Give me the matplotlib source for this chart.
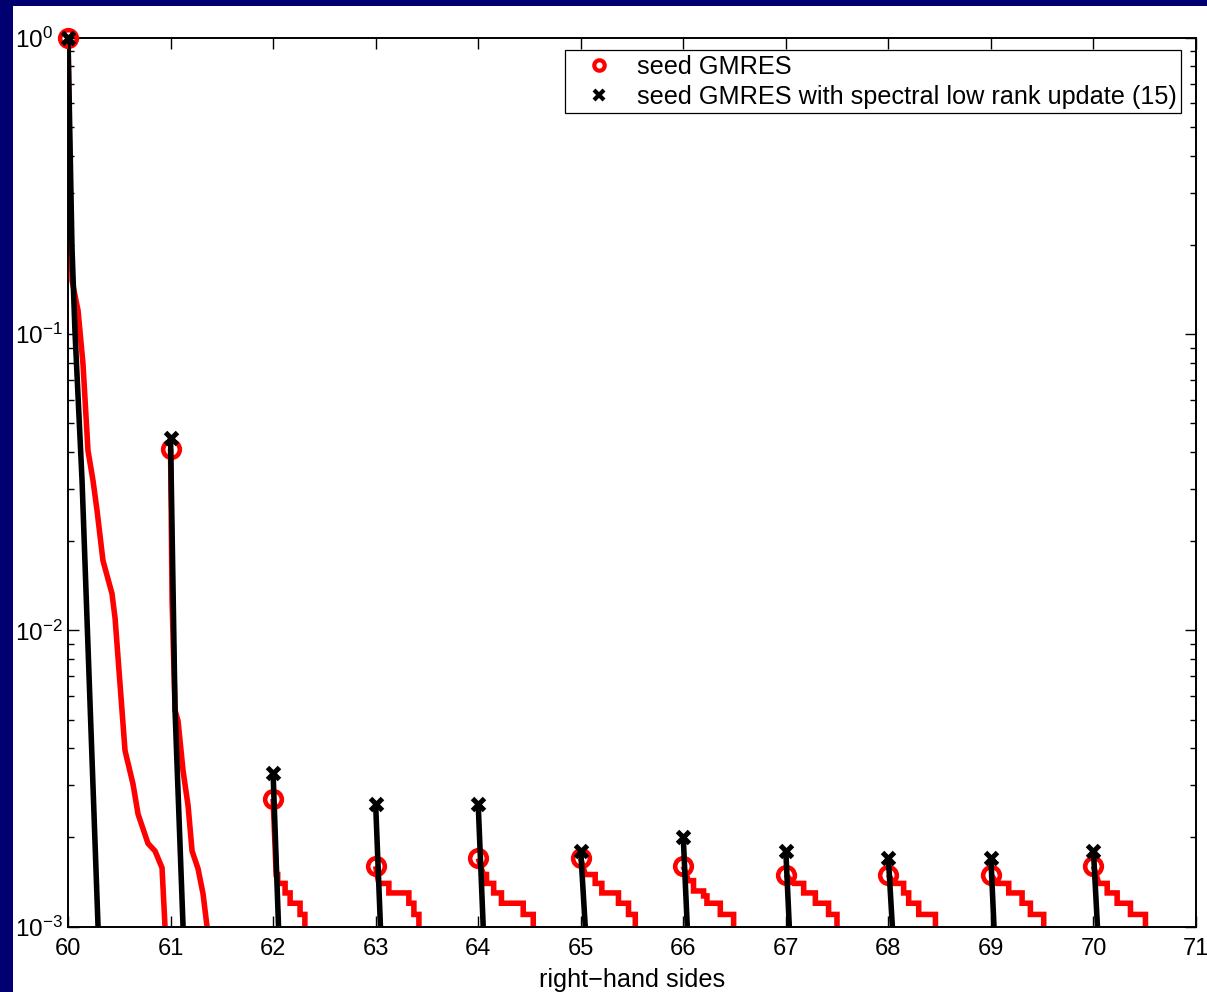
import numpy as np
import matplotlib
matplotlib.use("Agg")
import matplotlib.pyplot as plt
from matplotlib.lines import Line2D
from matplotlib.patches import Rectangle
from matplotlib.ticker import FixedLocator, LogLocator, NullFormatter, FuncFormatter

plt.rcParams['font.family'] = ['Liberation Sans', 'DejaVu Sans']
plt.rcParams['mathtext.fontset'] = 'custom'
plt.rcParams['mathtext.rm'] = 'Liberation Sans'
plt.rcParams['mathtext.it'] = 'Liberation Sans:italic'
plt.rcParams['mathtext.default'] = 'regular'

# ---------------- data ----------------
rhs = [60, 61, 62, 63, 64, 65, 66, 67, 68, 69, 70]
x_ticks = list(range(60, 72))

# starting residuals (markers)
seed_start = [1.0, 0.041, 2.7e-3, 1.6e-3, 1.7e-3, 1.7e-3, 1.6e-3, 1.5e-3, 1.5e-3, 1.5e-3, 1.6e-3]
lowrank_start = [1.0, 0.0447, 3.3e-3, 2.6e-3, 2.6e-3, 1.8e-3, 2.0e-3, 1.8e-3, 1.7e-3, 1.7e-3, 1.8e-3]

# seed GMRES: smooth head part (offset within rhs, residual)
seed_head_dx = [
    [0, 0.02, 0.04, 0.098, 0.146, 0.195, 0.244, 0.283, 0.341, 0.429, 0.459, 0.556,
     0.634, 0.683, 0.78, 0.849, 0.917, 0.946, 0.955],
    [0, 0.015, 0.044, 0.073, 0.122, 0.171, 0.210, 0.268, 0.317, 0.356, 0.365],
    [0, 0.03], [0, 0.031], [0, 0.05], [0, 0.044], [0, 0.05],
    [0, 0.076], [0, 0.052], [0, 0.06], [0, 0.052],
]
seed_head_val = [
    [1.0, 0.282, 0.151, 0.120, 0.0794, 0.0404, 0.032, 0.0254, 0.0172, 0.0133, 0.0110,
     3.93e-3, 3.03e-3, 2.40e-3, 1.91e-3, 1.80e-3, 1.58e-3, 1.0e-3, 0.9e-3],
    [0.041, 0.0126, 5.37e-3, 4.95e-3, 3.36e-3, 2.56e-3, 1.80e-3, 1.57e-3, 1.29e-3, 1.0e-3, 0.9e-3],
    [2.7e-3, 1.5e-3], [1.6e-3, 1.4e-3], [1.7e-3, 1.5e-3], [1.7e-3, 1.5e-3], [1.6e-3, 1.43e-3],
    [1.5e-3, 1.4e-3], [1.5e-3, 1.4e-3], [1.5e-3, 1.4e-3], [1.6e-3, 1.4e-3],
]
# seed GMRES: stagnation staircase (offset where the residual drops, new level)
seed_step_dx = [
    [], [],
    [0.045, 0.117, 0.166, 0.263, 0.31],
    [0.129, 0.324, 0.373, 0.422],
    [0.081, 0.151, 0.227, 0.439, 0.537],
    [0.141, 0.206, 0.368, 0.466, 0.532],
    [0.10, 0.198, 0.231, 0.361, 0.491],
    [0.174, 0.288, 0.417, 0.499],
    [0.149, 0.198, 0.296, 0.459],
    [0.174, 0.304, 0.385, 0.515],
    [0.134, 0.231, 0.361, 0.507],
]
seed_step_val = [
    [], [],
    [1.4e-3, 1.3e-3, 1.2e-3, 1.1e-3, 0.9e-3],
    [1.3e-3, 1.2e-3, 1.1e-3, 0.9e-3],
    [1.4e-3, 1.3e-3, 1.2e-3, 1.1e-3, 0.9e-3],
    [1.4e-3, 1.3e-3, 1.2e-3, 1.1e-3, 0.9e-3],
    [1.32e-3, 1.27e-3, 1.2e-3, 1.1e-3, 0.9e-3],
    [1.3e-3, 1.2e-3, 1.1e-3, 0.9e-3],
    [1.3e-3, 1.2e-3, 1.1e-3, 0.9e-3],
    [1.3e-3, 1.2e-3, 1.1e-3, 0.9e-3],
    [1.3e-3, 1.2e-3, 1.1e-3, 0.9e-3],
]

# seed GMRES with spectral low rank update
lowrank_dx = [
    [0, 0.039, 0.068, 0.137, 0.293, 0.30],
    [0, 0.044, 0.122, 0.13],
    [0, 0.053, 0.058], [0, 0.047, 0.051], [0, 0.049, 0.053], [0, 0.044, 0.048],
    [0, 0.039, 0.043], [0, 0.034, 0.038], [0, 0.039, 0.043], [0, 0.03, 0.034], [0, 0.039, 0.043],
]
lowrank_val = [
    [1.0, 0.195, 0.102, 0.032, 1.0e-3, 0.9e-3],
    [0.0447, 5.35e-3, 1.0e-3, 0.9e-3],
    [3.3e-3, 1.0e-3, 0.9e-3], [2.6e-3, 1.0e-3, 0.9e-3], [2.6e-3, 1.0e-3, 0.9e-3],
    [1.8e-3, 1.0e-3, 0.9e-3], [2.0e-3, 1.0e-3, 0.9e-3], [1.8e-3, 1.0e-3, 0.9e-3],
    [1.7e-3, 1.0e-3, 0.9e-3], [1.7e-3, 1.0e-3, 0.9e-3], [1.8e-3, 1.0e-3, 0.9e-3],
]

labels = ['seed GMRES', 'seed GMRES with spectral low rank update (15)']
xlabel = 'right\u2212hand sides'

# ---------------- figure ----------------
W, H = 1207, 992
fig = plt.figure(figsize=(W / 100, H / 100), dpi=100, facecolor='#000070')
fig.patches.append(Rectangle((13 / W, 0), 1 - 13 / W, 1 - 6 / H, transform=fig.transFigure,
                             facecolor='white', edgecolor='none', zorder=-10))
ax = fig.add_axes([68 / W, (H - 926.7) / H, (1196 - 68) / W, (926.7 - 37.7) / H])
ax.set_yscale('log')

LW = 4.0


def seed_path(k, hdx, hval, sdx, sval):
    xs = list(hdx)
    ys = list(hval)
    level = ys[-1]
    for d, v in zip(sdx, sval):
        xs += [d, d]
        ys += [level, v]
        level = v
    return k + np.array(xs, dtype=float), np.array(ys, dtype=float)


for i, k in enumerate(rhs):
    xs, ys = seed_path(k, seed_head_dx[i], seed_head_val[i], seed_step_dx[i], seed_step_val[i])
    ax.plot(xs, ys, color='#ff0000', lw=LW, solid_joinstyle='miter', solid_capstyle='butt', zorder=2)
ax.plot(rhs, seed_start, ls='none', marker='o', ms=12, mfc='none', mec='#ff0000', mew=3.3,
        zorder=3, clip_on=False)

for i, k in enumerate(rhs):
    ax.plot(k + np.array(lowrank_dx[i]), lowrank_val[i], color='black', lw=LW,
            solid_capstyle='butt', zorder=4)
ax.plot(rhs, lowrank_start, ls='none', marker='x', ms=8.5, mec='black', mew=3.6,
        zorder=5, clip_on=False)

ax.set_xlim(60, 71)
ax.set_ylim(1e-3, 1)
ax.xaxis.set_major_locator(FixedLocator(x_ticks))
ax.yaxis.set_major_locator(LogLocator(base=10, numticks=10))
ax.yaxis.set_minor_locator(LogLocator(base=10, subs=np.arange(2, 10), numticks=10))
ax.yaxis.set_minor_formatter(NullFormatter())
ax.yaxis.set_major_formatter(FuncFormatter(lambda v, p: r'$10^{%d}$' % int(round(np.log10(v)))))

ax.tick_params(which='both', direction='in', top=True, right=True, width=1.0, color='black')
ax.tick_params(which='major', length=8)
ax.tick_params(which='minor', length=4)
ax.tick_params(axis='x', pad=8, labelsize=17)
ax.tick_params(axis='y', pad=38, labelsize=17.5)
for t in ax.get_yticklabels():
    t.set_horizontalalignment('left')
for s in ax.spines.values():
    s.set_linewidth(1.4)

ax.set_xlabel(xlabel, fontsize=18.2)
ax.xaxis.set_label_coords(0.5, -0.046)

handles = [
    Line2D([], [], ls='none', marker='o', ms=7.5, mfc='none', mec='#ff0000', mew=3.0),
    Line2D([], [], ls='none', marker='x', ms=6.5, mec='black', mew=3.0),
]
leg = ax.legend(handles, labels, loc='upper right', bbox_to_anchor=(1181 / W, 1 - 50 / H),
                bbox_transform=fig.transFigure, borderaxespad=0, fontsize=18.2,
                fancybox=False, framealpha=1, edgecolor='black', borderpad=0.18,
                labelspacing=0.24, handlelength=2.36, handletextpad=0.3)
leg.get_frame().set_linewidth(0.9)

fig.savefig('out.png', dpi=100, facecolor=fig.get_facecolor())
